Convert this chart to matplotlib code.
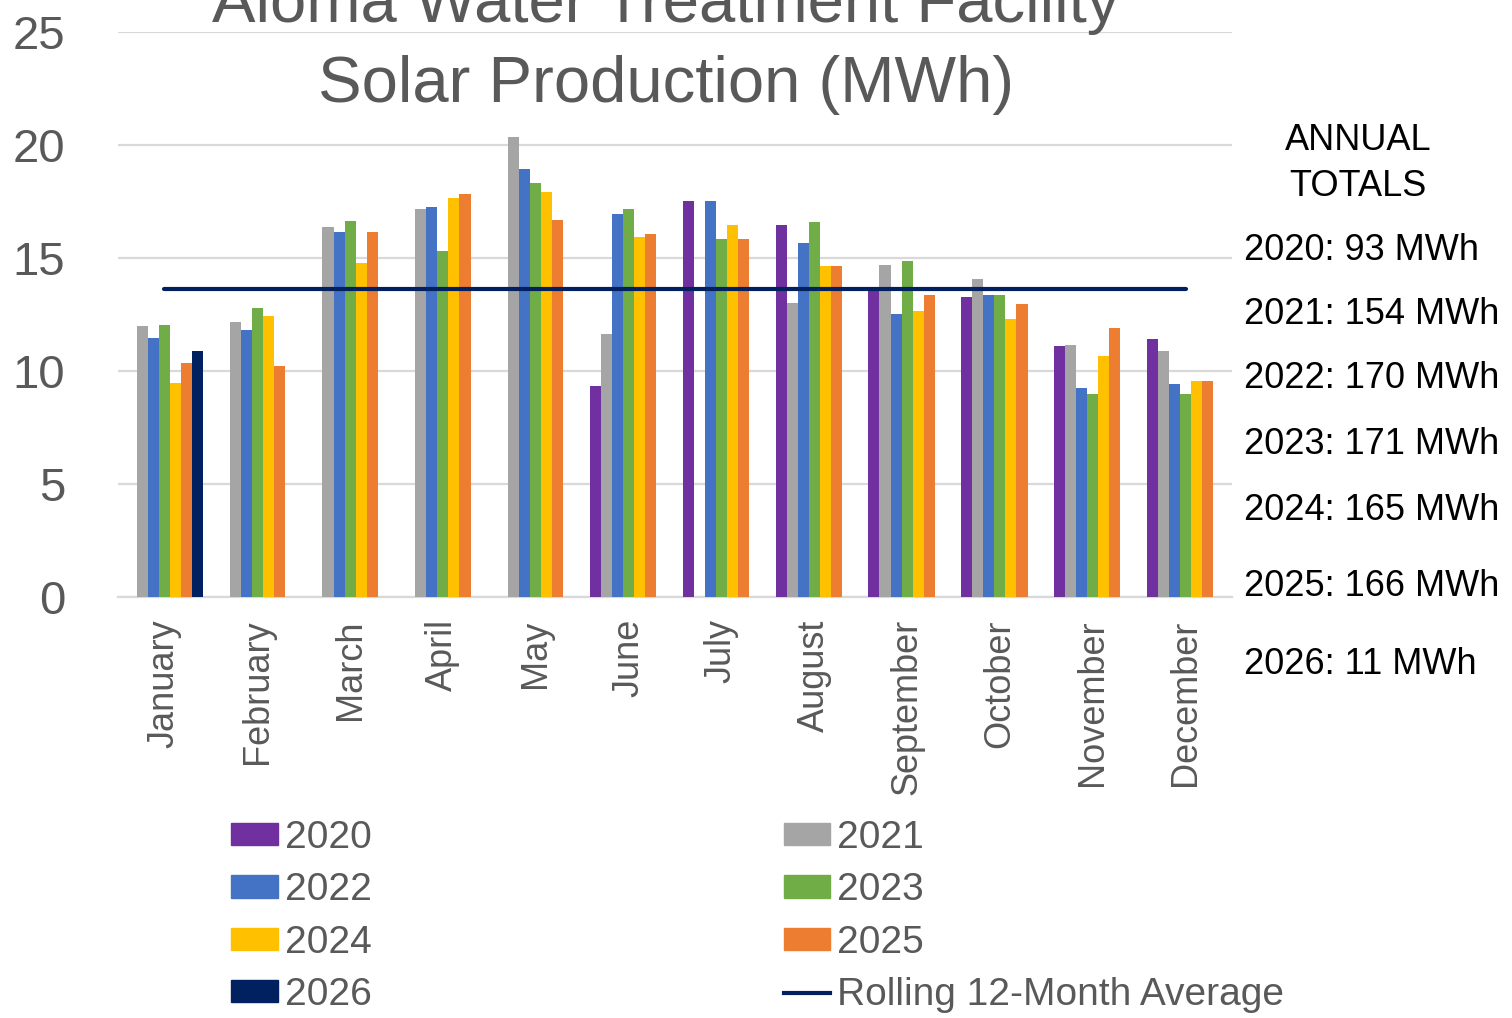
import numpy as np
import matplotlib
matplotlib.use("Agg")
import matplotlib.pyplot as plt
from matplotlib.patches import Patch
from matplotlib.lines import Line2D

plt.rcParams['font.family'] = ['Liberation Sans', 'DejaVu Sans']

months = ["January", "February", "March", "April", "May", "June", "July",
          "August", "September", "October", "November", "December"]
nan = np.nan
y2020 = [nan, nan, nan, nan, nan, 9.35, 17.53, 16.47, 13.6, 13.28, 11.12, 11.43]
y2021 = [12.0, 12.18, 16.38, 17.17, 20.35, 11.65, nan, 13.02, 14.7, 14.08, 11.16, 10.9]
y2022 = [11.47, 11.83, 16.16, 17.26, 18.94, 16.95, 17.53, 15.67, 12.53, 13.37, 9.26, 9.44]
y2023 = [12.05, 12.8, 16.64, 15.32, 18.32, 17.17, 15.85, 16.6, 14.87, 13.37, 9.0, 9.0]
y2024 = [9.48, 12.44, 14.79, 17.66, 17.92, 15.94, 16.47, 14.65, 12.67, 12.31, 10.68, 9.57]
y2025 = [10.37, 10.24, 16.16, 17.84, 16.69, 16.07, 15.85, 14.65, 13.37, 12.97, 11.91, 9.57]
y2026 = [10.9, nan, nan, nan, nan, nan, nan, nan, nan, nan, nan, nan]
rolling_avg = [13.65] * 12

years = ["2020", "2021", "2022", "2023", "2024", "2025", "2026"]
series = [y2020, y2021, y2022, y2023, y2024, y2025, y2026]
colors = ["#7030A0", "#A5A5A5", "#4472C4", "#70AD47", "#FFC000", "#ED7D31", "#002060"]

totals = ["2020: 93 MWh", "2021: 154 MWh", "2022: 170 MWh", "2023: 171 MWh",
          "2024: 165 MWh", "2025: 166 MWh", "2026: 11 MWh"]
totals_y = [250, 314, 379, 444, 510, 587, 664]

W, H = 1512, 1018
fig = plt.figure(figsize=(W / 100, H / 100), dpi=100)
ax = fig.add_axes([118 / W, 1 - 597 / H, (1232 - 118) / W, (597 - 32) / H])

x = np.arange(len(months))
w = 0.119
for i, (vals, c) in enumerate(zip(series, colors)):
    ax.bar(x + (i - 3) * w, vals, w, color=c, zorder=3)

ax.plot(x, rolling_avg, color="#002060", lw=3, zorder=4, solid_capstyle='round')

ax.set_xlim(-0.5, 11.5)
ax.set_ylim(0, 25)
ax.set_yticks(np.arange(0, 26, 5))
ax.grid(axis='y', color='#D9D9D9', lw=1.6, zorder=0)
for s in ['top', 'right', 'left']:
    ax.spines[s].set_visible(False)
ax.spines['bottom'].set_color('#D9D9D9')
ax.spines['bottom'].set_linewidth(1.6)
ax.tick_params(axis='y', length=0, pad=38, labelsize=34, labelcolor='#595959')
ax.tick_params(axis='x', length=0, pad=16, labelsize=26, labelcolor='#595959')
ax.set_xticks(x)
ax.set_xticklabels(months, rotation=90, va='top', ha='center')

# title (top line is cropped by the figure edge, as in the original)
fig.text(666 / W, 1 - 22 / H, "Aloma Water Treatment Facility", ha='center',
         va='baseline', fontsize=47, color='#595959')
fig.text(666 / W, 1 - 102 / H, "Solar Production (MWh)", ha='center',
         va='baseline', fontsize=47, color='#595959')

# annual totals
fig.text(1358 / W, 1 - 140 / H, "ANNUAL", ha='center', va='center', fontsize=26, color='black')
fig.text(1358 / W, 1 - 187 / H, "TOTALS", ha='center', va='center', fontsize=26, color='black')
for t, ty in zip(totals, totals_y):
    fig.text(1244 / W, 1 - ty / H, t, ha='left', va='center', fontsize=26, color='black')

# legend, row-major order across two columns
patches = [Patch(color=c, label=y) for y, c in zip(years, colors)]
line_h = Line2D([0], [0], color="#002060", lw=3, label="Rolling 12-Month Average")
handles = [patches[0], patches[2], patches[4], patches[6],
           patches[1], patches[3], patches[5], line_h]
leg = fig.legend(handles=handles, ncol=2, loc='upper left',
                 bbox_to_anchor=(231 / W, 1 - 820 / H), frameon=False,
                 fontsize=28, handlelength=1.2, handleheight=0.5,
                 handletextpad=0.18, columnspacing=10.6, labelspacing=0.42,
                 borderpad=0, borderaxespad=0)
for txt in leg.get_texts():
    txt.set_color('#595959')

fig.savefig("out.png", dpi=100)
